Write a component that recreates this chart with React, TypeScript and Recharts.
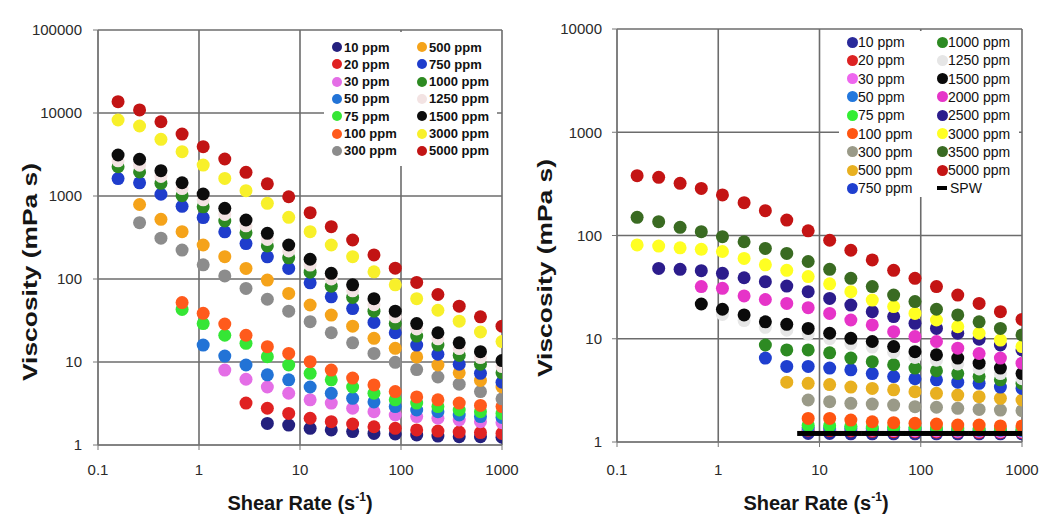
import React from 'react';
import { ScatterChart, Scatter, XAxis, YAxis, CartesianGrid, Legend, Label } from 'recharts';

const FONT = '"Liberation Sans", Arial, Helvetica, sans-serif';
const _ = null;

// Shear rates (s^-1), shared by both panels
const SHEAR_RATES = [0.158, 0.258, 0.42, 0.68, 1.1, 1.8, 2.92, 4.75, 7.73, 12.6, 20.4, 33.2, 54, 87.7, 143, 232, 377, 612, 1000];

const X_TICKS = [0.1, 1, 10, 100, 1000];
const LEFT_Y_TICKS = [1, 10, 100, 1000, 10000, 100000];
const RIGHT_Y_TICKS = [1, 10, 100, 1000, 10000];

// ---- Left panel viscosities (mPa s) ----
const L_10 = [_, _, _, _, _, _, _, 1.82, 1.74, 1.59, 1.52, 1.45, 1.38, 1.36, 1.32, 1.28, 1.26, 1.26, 1.24];
const L_20 = [_, _, _, _, _, _, 3.2, 2.77, 2.4, 2.1, 1.91, 1.79, 1.66, 1.59, 1.52, 1.47, 1.43, 1.41, 1.38];
const L_30 = [_, _, _, _, _, 8.0, 6.2, 5.0, 4.2, 3.5, 3.2, 2.77, 2.52, 2.3, 2.2, 2.1, 2.0, 1.91, 1.86];
const L_50 = [_, _, _, _, 16, 11.8, 9.2, 7.0, 6.1, 5.0, 4.2, 3.65, 3.3, 2.9, 2.64, 2.52, 2.3, 2.2, 2.15];
const L_75 = [_, _, _, 43, 29, 21, 16.8, 11.6, 9.2, 7.3, 6.1, 5.0, 4.2, 3.5, 3.2, 2.9, 2.64, 2.52, 2.4];
const L_100 = [_, _, _, 52, 38.6, 28.7, 21, 15.3, 12.7, 10.1, 8.0, 6.4, 5.3, 4.4, 3.8, 3.5, 3.2, 3.0, 2.9];
const L_300 = [_, 477, 310, 223, 148, 109, 77, 57, 41, 30.6, 22.5, 17, 12.7, 9.9, 8.1, 6.6, 5.4, 4.4, 3.6];
const L_500 = [_, 790, 523, 372, 257, 186, 134, 97, 67, 48.6, 36.8, 27, 19.3, 14.6, 11.5, 9.2, 7.4, 6.0, 5.0];
const L_750 = [1620, 1440, 1050, 750, 550, 370, 267, 185, 134, 90, 61, 44, 30, 22.5, 16, 12.4, 9.4, 7.3, 5.7];
const L_1000 = [2250, 1950, 1420, 1010, 740, 500, 360, 250, 180, 121, 82, 60, 41, 29, 20.5, 16, 12, 9.4, 7.4];
const L_1250 = [2650, 2350, 1720, 1230, 900, 600, 437, 300, 218, 147, 100, 72, 49, 35, 25, 19, 14.5, 11.3, 8.8];
const L_1500 = [3120, 2770, 2020, 1445, 1057, 711, 514, 355, 257, 173, 117, 85, 58, 41, 29, 22.5, 17, 13.3, 10.4];
const L_3000 = [8240, 6970, 4820, 3420, 2360, 1630, 1160, 817, 553, 372, 257, 186, 122, 85, 58, 42, 31, 23, 17.6];
const L_5000 = [13700, 10900, 7850, 5580, 3930, 2790, 1930, 1400, 980, 630, 427, 295, 195, 135, 91, 65, 47, 35, 27];

// ---- Right panel viscosities (mPa s) ----
const R_10 = [_, _, _, _, _, _, _, _, 1.21, 1.21, 1.2, 1.2, 1.2, 1.2, 1.2, 1.2, 1.2, 1.2, 1.2];
const R_20 = [_, _, _, _, _, _, _, _, 1.3, 1.29, 1.28, 1.27, 1.26, 1.26, 1.25, 1.25, 1.24, 1.24, 1.24];
const R_30 = [_, _, _, _, _, _, _, _, 1.33, 1.32, 1.31, 1.3, 1.29, 1.28, 1.28, 1.27, 1.27, 1.26, 1.26];
const R_50 = [_, _, _, _, _, _, _, _, 1.38, 1.37, 1.36, 1.35, 1.34, 1.33, 1.32, 1.31, 1.3, 1.3, 1.29];
const R_75 = [_, _, _, _, _, _, _, _, 1.45, 1.44, 1.42, 1.4, 1.39, 1.38, 1.37, 1.36, 1.35, 1.34, 1.33];
const R_100 = [_, _, _, _, _, _, _, _, 1.69, 1.69, 1.63, 1.57, 1.54, 1.52, 1.49, 1.46, 1.46, 1.43, 1.43];
const R_300 = [_, _, _, _, _, _, _, _, 2.55, 2.46, 2.37, 2.33, 2.28, 2.2, 2.17, 2.12, 2.07, 2.04, 2.01];
const R_500 = [_, _, _, _, _, _, _, 3.8, 3.7, 3.6, 3.4, 3.3, 3.2, 3.07, 2.96, 2.85, 2.75, 2.65, 2.55];
const R_750 = [_, _, _, _, _, _, 6.5, 5.4, 5.4, 5.2, 5.0, 4.6, 4.3, 4.1, 4.0, 3.8, 3.7, 3.4, 3.3];
const R_1000 = [_, _, _, _, _, _, 8.7, 7.8, 7.8, 7.3, 6.5, 6.0, 5.6, 5.2, 4.9, 4.6, 4.3, 4.0, 3.7];
const R_1250 = [_, _, _, _, 17.2, 15, 12.9, 12.1, 11.1, 10, 8.9, 8.3, 7.4, 6.6, 6.2, 5.7, 5.1, 4.6, 4.1];
const R_1500 = [_, _, _, 21.7, 19.3, 17, 14.6, 13.8, 12.6, 11.3, 10.1, 9.4, 8.4, 7.5, 7.0, 6.5, 5.8, 5.2, 4.6];
const R_2000 = [_, _, _, 32, 30.8, 26, 24, 22, 20, 17.6, 15.2, 13.6, 11.7, 10.5, 9.4, 8.1, 7.2, 6.5, 5.8];
const R_2500 = [_, 48, 47, 45.6, 43, 39, 35.7, 32.4, 28.6, 24.6, 21.2, 18.3, 16.4, 14.1, 12.6, 11.3, 9.9, 8.7, 7.8];
const R_3000 = [81, 79, 76, 73.5, 70, 60, 52, 46, 40, 34, 28.6, 23.7, 20.5, 17.6, 15.2, 13.1, 11.3, 9.7, 8.4];
const R_3500 = [150, 136, 120, 109, 97.4, 87, 75, 67, 56, 47, 38.5, 32, 26.5, 22.9, 19.3, 17, 14.6, 12.6, 10.9];
const R_5000 = [380, 366, 320, 286, 247, 208, 174, 141, 111, 90, 72, 58, 46, 38.5, 32, 26.5, 22, 18.3, 15.4];
const R_SPW = [_, _, _, _, _, _, _, _, 1.21, 1.21, 1.21, 1.21, 1.21, 1.21, 1.21, 1.21, 1.21, 1.21, 1.21];

// ---- Series names ----
const LEFT_NAMES = ['10 ppm', '20 ppm', '30 ppm', '50 ppm', '75 ppm', '100 ppm', '300 ppm', '500 ppm', '750 ppm', '1000 ppm', '1250 ppm', '1500 ppm', '3000 ppm', '5000 ppm'];
const RIGHT_NAMES = ['10 ppm', '20 ppm', '30 ppm', '50 ppm', '75 ppm', '100 ppm', '300 ppm', '500 ppm', '750 ppm', '1000 ppm', '1250 ppm', '1500 ppm', '2000 ppm', '2500 ppm', '3000 ppm', '3500 ppm', '5000 ppm', 'SPW'];

const LEFT_VALUES = [L_10, L_20, L_30, L_50, L_75, L_100, L_300, L_500, L_750, L_1000, L_1250, L_1500, L_3000, L_5000];
const RIGHT_VALUES = [R_10, R_20, R_30, R_50, R_75, R_100, R_300, R_500, R_750, R_1000, R_1250, R_1500, R_2000, R_2500, R_3000, R_3500, R_5000, R_SPW];

// ---- Colours ----
const LEFT_COLORS = ['#24207e', '#e02222', '#e46ee6', '#2273d6', '#35e635', '#ff5a1c', '#8c8c8c', '#f5a31a', '#1f3dcc', '#2d8a22', '#f3e3e3', '#0c0c0c', '#f8f02a', '#c21414'];
const RIGHT_COLORS = ['#2a2a9a', '#dd2222', '#ee66ee', '#2277dd', '#33ee33', '#ff5511', '#9a9a88', '#e8b020', '#1f3fcf', '#2d8a22', '#e6e6e6', '#0a0a0a', '#e634c8', '#2c1c8c', '#ffff22', '#3a6b22', '#c41414', '#000000'];

type Pt = { x: number; y: number };
function toPoints(values: (number | null)[]): Pt[] {
  const pts: Pt[] = [];
  values.forEach((v, i) => {
    if (v != null) pts.push({ x: SHEAR_RATES[i], y: v });
  });
  return pts;
}

const dotShape = (color: string) => (props: any) => {
  if (props.cx == null || props.cy == null) return <g />;
  return <circle cx={props.cx} cy={props.cy} r={6.5} fill={color} />;
};
const dashShape = (color: string) => (props: any) => {
  if (props.cx == null || props.cy == null) return <g />;
  return <rect x={props.cx - 11} y={props.cy - 2.5} width={22} height={5} fill={color} />;
};

type LegendCfg = {
  left: number; top: number; width: number; height: number;
  rows: number; firstY: number; pitch: number;
  markerX: number[]; textX: number[]; fontSize: number; fontWeight: number; r: number;
};

function LegendBox({ names, colors, cfg }: { names: string[]; colors: string[]; cfg: LegendCfg }) {
  return (
    <div style={{ position: 'relative', width: cfg.width, height: cfg.height, background: '#fff', fontFamily: FONT }}>
      {names.map((n, i) => {
        const col = Math.floor(i / cfg.rows);
        const row = i % cfg.rows;
        const cy = cfg.firstY + row * cfg.pitch;
        const mx = cfg.markerX[col];
        const isDash = n === 'SPW';
        return (
          <React.Fragment key={n}>
            {isDash ? (
              <div style={{ position: 'absolute', left: mx - 5, top: cy - 2, width: 10, height: 4, background: colors[i] }} />
            ) : (
              <div style={{ position: 'absolute', left: mx - cfg.r, top: cy - cfg.r, width: cfg.r * 2, height: cfg.r * 2, borderRadius: '50%', background: colors[i] }} />
            )}
            <div style={{ position: 'absolute', left: cfg.textX[col] + (isDash ? 2 : 0), top: cy - cfg.fontSize / 2 - 1, fontSize: cfg.fontSize, lineHeight: `${cfg.fontSize + 2}px`, fontWeight: cfg.fontWeight, color: '#111', whiteSpace: 'nowrap' }}>
              {n}
            </div>
          </React.Fragment>
        );
      })}
    </div>
  );
}

const YTitle = ({ x, y }: { x: number; y: number }) => (
  <text x={x} y={y} transform={`rotate(-90 ${x} ${y})`} textAnchor="middle" dominantBaseline="central"
    fontFamily={FONT} fontSize={20} fontWeight={700} fill="#151515" textLength={218} lengthAdjust="spacingAndGlyphs">
    Viscosity (mPa s)
  </text>
);

const XTitle = ({ x, y }: { x: number; y: number }) => (
  <text x={x} y={y} textAnchor="middle" fontFamily={FONT} fontSize={20} fontWeight={700} fill="#151515">
    Shear Rate (s<tspan fontSize={12} dy={-9}>-1</tspan><tspan dy={9}>)</tspan>
  </text>
);

type PanelProps = {
  names: string[]; values: (number | null)[][]; colors: string[];
  width: number; plotLeft: number; plotTop: number; xAxisHeight: number; marginRight: number;
  yDomain: [number, number]; yTicks: number[]; tickMarginX: number; tickMarginY: number;
  yTitle: { x: number; y: number }; xTitle: { x: number; y: number }; legend: LegendCfg;
};

function Panel(p: PanelProps) {
  const tickStyle = { fontSize: 15, fill: '#2a2a2a', fontFamily: FONT };
  return (
    <ScatterChart width={p.width} height={517} margin={{ top: p.plotTop, right: p.marginRight, bottom: 0, left: 0 }}>
      <CartesianGrid stroke="#6c6c6c" strokeWidth={1.6} />
      <XAxis type="number" dataKey="x" scale="log" domain={[0.1, 1000]} ticks={X_TICKS} interval={0}
        height={p.xAxisHeight} tickSize={5} tickMargin={p.tickMarginX} stroke="#777" tick={tickStyle}
        tickFormatter={(v: number) => String(v)} allowDataOverflow>
        <Label content={() => <XTitle x={p.xTitle.x} y={p.xTitle.y} />} />
      </XAxis>
      <YAxis type="number" dataKey="y" scale="log" domain={p.yDomain} ticks={p.yTicks} interval={0}
        width={p.plotLeft} tickSize={5} tickMargin={p.tickMarginY} stroke="#777" tick={tickStyle}
        tickFormatter={(v: number) => String(v)} allowDataOverflow>
        <Label content={() => <YTitle x={p.yTitle.x} y={p.yTitle.y} />} />
      </YAxis>
      {p.names.map((n, i) => (
        <Scatter key={n} name={n} data={toPoints(p.values[i])} fill={p.colors[i]}
          shape={n === 'SPW' ? dashShape(p.colors[i]) : dotShape(p.colors[i])} isAnimationActive={false} />
      ))}
      <Legend layout="vertical" align="center" verticalAlign="middle"
        wrapperStyle={{ left: p.legend.left, top: p.legend.top, width: p.legend.width, height: p.legend.height }}
        content={() => <LegendBox names={p.names} colors={p.colors} cfg={p.legend} />} />
    </ScatterChart>
  );
}

export default function App() {
  return (
    <div style={{ position: 'absolute', left: 0, top: 0, width: 1041, height: 517, background: '#fff', fontFamily: FONT }}>
      <div style={{ position: 'absolute', left: 0, top: 0 }}>
        <Panel names={LEFT_NAMES} values={LEFT_VALUES} colors={LEFT_COLORS}
          width={520} plotLeft={98} plotTop={30} xAxisHeight={72} marginRight={18}
          yDomain={[1, 100000]} yTicks={LEFT_Y_TICKS} tickMarginX={14} tickMarginY={11}
          yTitle={{ x: 30, y: 272 }} xTitle={{ x: 300, y: 510 }}
          legend={{ left: 324, top: 32, width: 173, height: 134, rows: 7, firstY: 15, pitch: 17.3,
            markerX: [13, 98], textX: [20, 105], fontSize: 13, fontWeight: 700, r: 5 }} />
      </div>
      <div style={{ position: 'absolute', left: 520, top: 0 }}>
        <Panel names={RIGHT_NAMES} values={RIGHT_VALUES} colors={RIGHT_COLORS}
          width={521} plotLeft={97} plotTop={29} xAxisHeight={75} marginRight={19}
          yDomain={[1, 10000]} yTicks={RIGHT_Y_TICKS} tickMarginX={17} tickMarginY={10}
          yTitle={{ x: 25, y: 268 }} xTitle={{ x: 296, y: 510 }}
          legend={{ left: 319, top: 31, width: 180, height: 166, rows: 9, firstY: 11, pitch: 18.3,
            markerX: [13, 103], textX: [19, 109], fontSize: 14, fontWeight: 400, r: 5.5 }} />
      </div>
    </div>
  );
}
